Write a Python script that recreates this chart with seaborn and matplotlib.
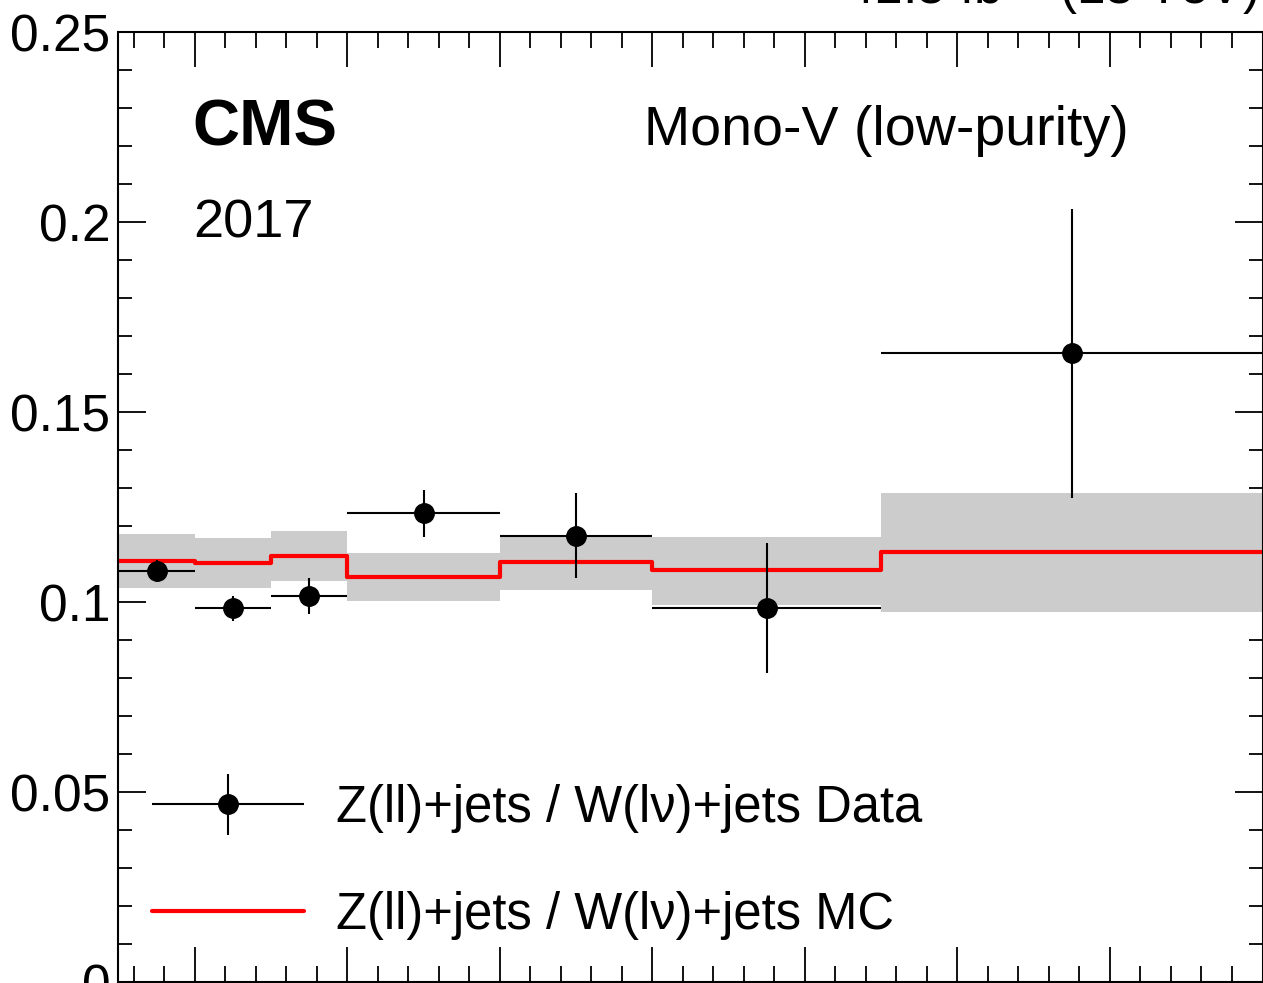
import numpy as np
import pandas as pd
import seaborn as sns
import matplotlib.pyplot as plt
from matplotlib.ticker import MultipleLocator
from matplotlib.legend_handler import HandlerErrorbar

# bin edges (recoil pT, GeV) and the ratio values
edges = [250, 300, 350, 400, 500, 600, 750, 1000]
data_ratio = [0.1082, 0.0984, 0.1016, 0.1234, 0.1174, 0.0984, 0.1655]
data_err = [0.0029, 0.0033, 0.0047, 0.0062, 0.0112, 0.0170, 0.0380]
mc_ratio = [0.1108, 0.1103, 0.1121, 0.1066, 0.1105, 0.1084, 0.1132]
mc_band_hi = [0.1179, 0.1168, 0.1187, 0.1129, 0.1176, 0.1171, 0.1287]
mc_band_lo = [0.1037, 0.1037, 0.1055, 0.1003, 0.1032, 0.0992, 0.0974]
ytick_vals = [0, 0.05, 0.1, 0.15, 0.2, 0.25]
ytick_labels = ['0', '0.05', '0.1', '0.15', '0.2', '0.25']

sns.set_style("ticks")
plt.rcParams['font.family'] = ['Liberation Sans', 'DejaVu Sans']
plt.rcParams['mathtext.fontset'] = 'custom'
plt.rcParams['mathtext.rm'] = 'Liberation Sans'
plt.rcParams['mathtext.it'] = 'Liberation Sans:italic'
for key in ['text.color', 'axes.labelcolor', 'xtick.color', 'ytick.color',
            'axes.edgecolor']:
    plt.rcParams[key] = 'black'

W, H = 1263, 983
fig = plt.figure(figsize=(W / 100, H / 100), dpi=100)
ax = fig.add_axes([118.5 / W, 1 / H, 1144 / W, 950 / H])

lo = np.array(edges[:-1])
hi = np.array(edges[1:])
centers = (lo + hi) / 2
halfw = (hi - lo) / 2

# MC uncertainty band
ax.fill_between(edges, mc_band_lo + [mc_band_lo[-1]], mc_band_hi + [mc_band_hi[-1]],
                step='post', color='#cccccc', linewidth=0, zorder=1)

# MC central value as a step line
mc_df = pd.DataFrame({'x': edges, 'y': mc_ratio + [mc_ratio[-1]]})
sns.lineplot(data=mc_df, x='x', y='y', ax=ax, color='red', linewidth=3,
             drawstyle='steps-post', label='Z(ll)+jets / W(lν)+jets MC', zorder=2)

# data points
eb = ax.errorbar(centers, data_ratio, xerr=halfw, yerr=data_err, fmt='o',
                 color='black', markersize=14, elinewidth=1.5, capsize=0,
                 label='Z(ll)+jets / W(lν)+jets Data', zorder=3)

ax.set_xlim(250, 1000)
ax.set_ylim(0, 0.25)
ax.set_xlabel('')
ax.set_ylabel('')

ax.xaxis.set_major_locator(MultipleLocator(100))
ax.xaxis.set_minor_locator(MultipleLocator(20))
ax.set_yticks(ytick_vals)
ax.set_yticklabels(ytick_labels)
ax.yaxis.set_minor_locator(MultipleLocator(0.01))

ax.tick_params(axis='both', which='both', direction='in', top=True, right=True,
               width=1.3, color='black', labelcolor='black')
ax.tick_params(axis='x', which='major', length=25, labelbottom=False)
ax.tick_params(axis='x', which='minor', length=11.5)
ax.tick_params(axis='y', which='major', length=20, labelsize=37, pad=6)
ax.tick_params(axis='y', which='minor', length=10)
for s in ax.spines.values():
    s.set_linewidth(1.5)
    s.set_color('black')

# labels
ax.text(0.065, 0.881, 'CMS', transform=ax.transAxes, fontsize=47,
        fontweight='bold', ha='left', va='baseline')
ax.text(0.065, 0.784, '2017', transform=ax.transAxes, fontsize=39,
        ha='left', va='baseline')
ax.text(0.459, 0.881, 'Mono-V (low-purity)', transform=ax.transAxes,
        fontsize=40, ha='left', va='baseline')
fig.text(1258 / W, 1 - 4 / H, '41.5 fb$^{-1}$ (13 TeV)', fontsize=37,
         ha='right', va='baseline')

# legend: data first, MC second
handles, labels = ax.get_legend_handles_labels()
order = [labels.index('Z(ll)+jets / W(lν)+jets Data'),
         labels.index('Z(ll)+jets / W(lν)+jets MC')]
ax.legend([handles[i] for i in order], [labels[i] for i in order],
          loc='center left', bbox_to_anchor=((152 - 118.5) / 1144, (982 - 862) / 950),
          frameon=False, fontsize=36.5, handlelength=3.0, handletextpad=0.62,
          labelspacing=1.15, borderpad=0, borderaxespad=0,
          handler_map={type(eb): HandlerErrorbar(xerr_size=1.5, yerr_size=0.6)})

fig.savefig('out.png', dpi=100)
